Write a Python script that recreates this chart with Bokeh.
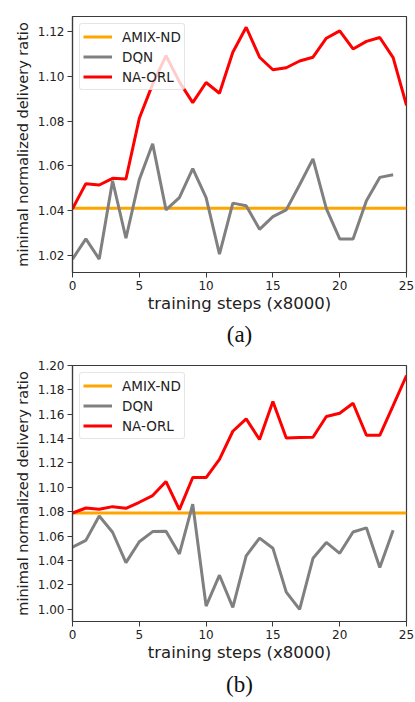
from bokeh.plotting import figure
from bokeh.layouts import column
from bokeh.models import Range1d, FixedTicker, Title, Legend, LegendItem, PrintfTickFormatter
from bokeh.embed import file_html
from bokeh.resources import INLINE

# ---------------- data ----------------
steps = list(range(26))
steps_dqn = list(range(25))
x_ticks = [0, 5, 10, 15, 20, 25]

# (a)
amix_a = 1.041
na_orl_a = [1.0408, 1.0520, 1.0514, 1.0544, 1.0541, 1.0812, 1.0965, 1.1092, 1.0975,
            1.0882, 1.0972, 1.0924, 1.1107, 1.1219, 1.1085, 1.1029, 1.1038, 1.1068,
            1.1085, 1.1170, 1.1203, 1.1122, 1.1156, 1.1173, 1.1083, 1.0870]
dqn_a = [1.0183, 1.0273, 1.0183, 1.0533, 1.0276, 1.0538, 1.0698, 1.0403, 1.0458,
         1.0587, 1.0458, 1.0205, 1.0433, 1.0421, 1.0316, 1.0373, 1.0403, 1.0515,
         1.0631, 1.0408, 1.0273, 1.0273, 1.0444, 1.0548, 1.0560]
y_ticks_a = [1.02, 1.04, 1.06, 1.08, 1.10, 1.12]

# (b)
amix_b = 1.0789
na_orl_b = [1.0789, 1.0830, 1.0819, 1.0841, 1.0827, 1.0877, 1.0932, 1.1047, 1.0816,
            1.1080, 1.1080, 1.1230, 1.1460, 1.1562, 1.1392, 1.1704, 1.1405, 1.1408,
            1.1411, 1.1581, 1.1608, 1.1690, 1.1427, 1.1427, 1.1671, 1.1918]
dqn_b = [1.0508, 1.0564, 1.0764, 1.0631, 1.0381, 1.0553, 1.0636, 1.0639, 1.0453,
         1.0861, 1.0025, 1.0278, 1.0014, 1.0436, 1.0583, 1.0500, 1.0139, 0.9997,
         1.0417, 1.0547, 1.0458, 1.0633, 1.0667, 1.0342, 1.0647]
y_ticks_b = [1.00, 1.02, 1.04, 1.06, 1.08, 1.10, 1.12, 1.14, 1.16, 1.18, 1.20]

series_names = ["AMIX-ND", "DQN", "NA-ORL"]
x_label = "training steps (x8000)"
y_label = "minimal normalized delivery ratio"

FONT = "DejaVu Sans"
AX = "#3a3a3a"


def make(amix, dqn, naorl, yr, yticks, caption, top_border, bottom_border, cap_standoff):
    p = figure(frame_width=334, frame_height=256,
               x_range=Range1d(0, 25), y_range=Range1d(*yr),
               output_backend="svg", toolbar_location=None,
               min_border_left=72, min_border_right=9,
               min_border_top=top_border, min_border_bottom=bottom_border)
    p.grid.visible = False
    p.outline_line_color = AX
    p.outline_line_width = 1.2
    p.outline_line_alpha = 1

    r1 = p.line([steps[0], steps[-1]], [amix, amix], line_color="orange", line_width=3)
    r2 = p.line(steps_dqn, dqn, line_color="gray", line_width=3)
    r3 = p.line(steps, naorl, line_color="red", line_width=3)

    p.xaxis.ticker = FixedTicker(ticks=x_ticks)
    p.yaxis.ticker = FixedTicker(ticks=yticks)
    p.yaxis.formatter = PrintfTickFormatter(format="%.2f")
    for ax in (p.xaxis[0], p.yaxis[0]):
        ax.axis_line_color = AX
        ax.axis_line_width = 1.2
        ax.major_tick_line_color = AX
        ax.major_tick_in = 0
        ax.major_tick_out = 5
        ax.minor_tick_line_color = None
        ax.major_label_text_font = FONT
        ax.major_label_text_font_size = "12px"
        ax.major_label_text_color = "#222222"
        ax.major_label_standoff = 3
        ax.axis_label_text_font = FONT
        ax.axis_label_text_font_style = "normal"
        ax.axis_label_text_color = "#222222"
    p.xaxis.axis_label = x_label
    p.xaxis.axis_label_text_font_size = "16.5px"
    p.xaxis.axis_label_standoff = 1
    p.yaxis.axis_label = y_label
    p.yaxis.axis_label_text_font_size = "14.5px"
    p.yaxis.axis_label_standoff = 4

    legend = Legend(items=[LegendItem(label=series_names[0], renderers=[r1]),
                           LegendItem(label=series_names[1], renderers=[r2]),
                           LegendItem(label=series_names[2], renderers=[r3])],
                    location="top_left")
    legend.margin = 7
    legend.padding = 3
    legend.spacing = 1
    legend.glyph_width = 29
    legend.glyph_height = 19
    legend.label_height = 19
    legend.label_standoff = 10
    legend.label_text_font = FONT
    legend.label_text_font_size = "13.5px"
    legend.label_text_color = "#222222"
    legend.border_line_color = "#cccccc"
    legend.border_line_width = 1
    legend.border_radius = 3
    legend.background_fill_alpha = 0.8
    p.add_layout(legend)

    t = Title(text=caption, align="center", text_font="Liberation Serif",
              text_font_size="23px", text_font_style="normal", text_color="#111111",
              standoff=cap_standoff)
    p.add_layout(t, "below")
    return p


pa = make(amix_a, dqn_a, na_orl_a, (1.0123, 1.1267), y_ticks_a, "(a)", 16, 78, 8)
pb = make(amix_b, dqn_b, na_orl_b, (0.9898, 1.2000), y_ticks_b, "(b)", 15, 80, 10)

layout = column(pa, pb, spacing=0)
open("out.html", "w").write(file_html(layout, INLINE))
